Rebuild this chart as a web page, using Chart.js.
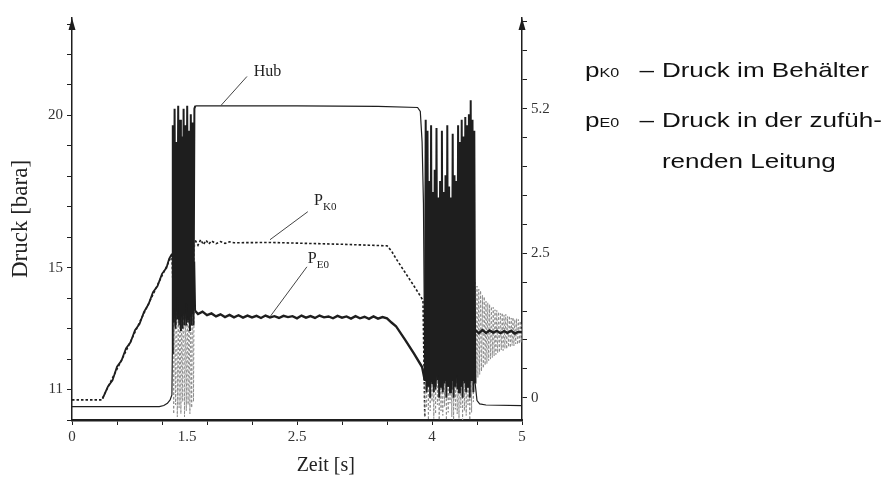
<!DOCTYPE html>
<html>
<head>
<meta charset="utf-8">
<script src="https://cdn.jsdelivr.net/npm/chart.js@4.4.1/dist/chart.umd.min.js"></script>
<style>
    body { margin: 0; background: #fff; }
    #wrap { position: relative; width: 891px; height: 479px; }
    #legend { position: absolute; left: 585px; top: 0; font-family: 'Liberation Sans', Arial, sans-serif; font-size: 21px; color: #111;
              transform: scaleX(1.24); transform-origin: 0 0; }
    .row { position: absolute; left: 0; white-space: nowrap; line-height: 1; }
    .sym { position: absolute; left: 0; }
    .sym small { font-size: 13px; }
    .dash { position: absolute; left: 44px; }
    .txt { position: absolute; left: 62px; }
</style>
</head>
<body>
<div id="wrap">
    <canvas id="myChart" width="891" height="479"></canvas>
    <div id="legend">
        <div class="row" style="top:59px"><span class="sym">p<small>K0</small></span><span class="dash">–</span><span class="txt">Druck im Behälter</span></div>
        <div class="row" style="top:109px"><span class="sym">p<small>E0</small></span><span class="dash">–</span><span class="txt">Druck in der zufüh-</span></div>
        <div class="row" style="top:150px"><span class="txt">renden Leitung</span></div>
    </div>
</div>
<script>
const myChart = document.querySelector('#myChart').getContext('2d')

// ticks
const xTickAt = [0, 0.5, 1, 1.5, 2, 2.5, 3, 3.5, 4, 4.5, 5]
const xLabelText = ['0', '1.5', '2.5', '4', '5']
const xLabelAt = [0, 1.28, 2.5, 4, 5]      // "1.5" sits under the start of the burst in the original
const pTickAt = [10, 11, 12, 13, 14, 15, 16, 17, 18, 19, 20, 21, 22, 23]
const pLabelAt = [11, 15, 20]
const hubTickAt = [0, 0.52, 1.04, 1.56, 2.08, 2.6, 3.12, 3.64, 4.16, 4.68, 5.2, 5.72, 6.24, 6.76]
const hubLabelText = ['0', '2.5', '5.2']
const hubLabelAt = [0, 2.6, 5.2]

// oscillation traces are read every 10 ms
const sampleStep = 0.01
const burst1Start = 1.12
const burst2Start = 3.92
const tailStart = 4.48

// Hub (right axis)
const hubBeforeT = [0, 0.97, 1.02, 1.06, 1.09, 1.11, 1.115]
const hubBeforeV = [-0.16, -0.16, -0.14, -0.1, -0.04, 0.05, 0.8]
const hubBurst1 = [4.9, 1.6, 5.2, 1.3, 4.6, 1.8, 5.25, 1.4, 5.0, 1.2, 4.7, 1.5, 5.2,
                   1.3, 4.9, 1.7, 5.25, 1.4, 4.8, 1.2, 5.1, 1.5, 4.95, 1.3, 5.2]
const hubMidT = [1.37, 2.5, 3.4, 3.84, 3.87, 3.89, 3.905]
const hubMidV = [5.25, 5.25, 5.24, 5.22, 5.15, 4.6, 3.5]
const hubBurst2 = [0.3, 5.0, 0.1, 4.8, 0.2, 3.9, 0.0, 4.9, 0.3, 3.7, 0.1, 4.1, 0.2, 4.85,
                   0.4, 3.6, 0.0, 3.9, 0.2, 4.8, 0.1, 3.7, 0.3, 4.0, 0.0, 4.9, 0.2, 3.8,
                   0.1, 3.6, 0.3, 4.75, 0.0, 4.0, 0.2, 3.9, 0.4, 4.9, 0.1, 4.6, 0.2, 5.0,
                   0.0, 4.7, 0.3, 5.05, 0.1, 4.9, 0.2, 5.1, 0.0, 5.35, 0.3, 5.0, 0.1, 4.8]
const hubAfterT = [4.48, 4.5, 4.53, 4.6, 5]
const hubAfterV = [0.25, -0.05, -0.11, -0.13, -0.14]

// p_K0 (left axis)
const pk0BeforeT = [0, 0.33, 0.45, 0.6, 0.75, 0.9, 1.0, 1.06, 1.11]
const pk0BeforeV = [10.66, 10.66, 11.38, 12.26, 13.2, 14.12, 14.74, 15.1, 15.42]
const pk0Burst1 = [14.6, 10.2, 14.0, 10.5, 14.8, 10.1, 13.6, 10.4, 14.3, 10.2, 13.9, 10.6, 14.5,
                   10.1, 13.7, 10.3, 14.2, 10.5, 14.6, 10.2, 13.8, 10.4, 14.4, 10.6, 15.6]
const pk0MidT = [1.37, 1.4, 1.43, 1.46, 1.49, 1.52, 1.55, 1.6, 1.65, 1.7, 1.75, 1.8,
                 2.2, 2.6, 3.0, 3.3, 3.5, 3.55, 3.6, 3.7, 3.8, 3.9]
const pk0MidV = [15.9, 15.74, 15.92, 15.76, 15.9, 15.78, 15.88, 15.79, 15.86, 15.8, 15.85, 15.82,
                 15.83, 15.8, 15.77, 15.74, 15.72, 15.55, 15.3, 14.85, 14.4, 13.93]
const pk0Burst2 = [10.1, 14.0, 10.4, 13.6, 10.0, 14.4, 10.3, 13.8, 10.6, 14.2, 10.05, 13.5,
                   10.2, 14.6, 10.5, 13.9, 10.0, 14.1, 10.3, 13.7, 10.15, 14.5, 10.45, 13.6,
                   10.0, 14.3, 10.25, 13.8, 10.55, 14.0, 10.1, 14.6, 10.0, 13.7, 10.35, 14.2,
                   10.2, 13.9, 10.05, 14.5, 10.4, 14.1, 10.0, 13.8, 10.3, 14.4, 10.15, 14.7,
                   10.5, 14.2, 10.0, 14.5, 10.25, 14.8, 10.6, 14.6]
const pk0Tail = [14.6, 11.2, 14.4, 11.4, 14.3, 11.5, 14.25, 11.6, 14.1, 11.7, 14.05, 11.8, 13.9,
                 11.85, 13.85, 11.95, 13.8, 12.0, 13.72, 12.05, 13.7, 12.1, 13.62, 12.15, 13.6,
                 12.2, 13.55, 12.22, 13.5, 12.3, 13.52, 12.28, 13.45, 12.35, 13.47, 12.33, 13.4,
                 12.4, 13.42, 12.38, 13.35, 12.45, 13.37, 12.43, 13.3, 12.5, 13.33, 12.48, 13.3,
                 12.5, 13.25, 12.55, 13.2]

// p_E0 (left axis)
const pe0BeforeT = [0.34, 0.4, 0.45, 0.5, 0.55, 0.6, 0.65, 0.7, 0.75, 0.8, 0.85, 0.9, 0.95, 1.0, 1.05, 1.08, 1.11]
const pe0BeforeV = [10.7, 11.1, 11.3, 11.75, 11.95, 12.35, 12.55, 12.95, 13.15, 13.55, 13.8, 14.2, 14.4, 14.8, 15.0, 15.3, 15.45]
const pe0Burst1 = [15.4, 13.2, 16.8, 13.0, 17.5, 13.3, 16.2, 13.1, 18.0, 13.4, 16.9, 13.0, 17.2,
                   13.3, 16.4, 13.1, 17.8, 13.2, 16.6, 13.4, 17.0, 13.1, 16.3, 13.5, 15.2]
const pe0MidT = [1.37, 1.4, 1.45, 1.5, 1.55, 1.6, 1.65, 1.7, 1.75, 1.8, 1.85, 1.9, 1.95, 2.0,
                 2.05, 2.1, 2.15, 2.2, 2.25, 2.3, 2.35, 2.4, 2.45, 2.5, 2.55, 2.6, 2.65, 2.7,
                 2.75, 2.8, 2.85, 2.9, 2.95, 3.0, 3.05, 3.1, 3.15, 3.2, 3.25, 3.3, 3.35, 3.4,
                 3.45, 3.5, 3.55, 3.6, 3.7, 3.8, 3.89]
const pe0MidV = [13.58, 13.48, 13.56, 13.44, 13.5, 13.4, 13.47, 13.38, 13.45, 13.37, 13.44, 13.36, 13.43, 13.37,
                 13.42, 13.35, 13.43, 13.37, 13.41, 13.35, 13.42, 13.38, 13.41, 13.34, 13.43, 13.36, 13.41, 13.35,
                 13.43, 13.37, 13.4, 13.34, 13.42, 13.36, 13.4, 13.33, 13.41, 13.34, 13.39, 13.32, 13.4, 13.33,
                 13.38, 13.34, 13.2, 13.08, 12.64, 12.18, 11.74]
const pe0Burst2 = [11.3, 14.2, 11.0, 14.8, 11.4, 13.9, 11.1, 14.5, 11.2, 14.0, 11.5, 14.6, 11.0, 14.3,
                   11.3, 13.8, 11.1, 14.7, 11.4, 14.1, 11.0, 14.4, 11.2, 13.9, 11.5, 14.6, 11.1, 14.2,
                   11.3, 14.8, 11.0, 14.0, 11.4, 14.5, 11.2, 13.8, 11.0, 14.3, 11.3, 14.7, 11.1, 14.1,
                   11.5, 14.4, 11.2, 14.9, 11.0, 14.2, 11.4, 14.6, 11.6, 14.0, 12.0, 13.8, 12.4, 13.4]
const pe0AfterT = [4.48, 4.52, 4.56, 4.6, 4.64, 4.68, 4.72, 4.76, 4.8, 4.84, 4.88, 4.92, 4.96, 5]
const pe0AfterV = [12.95, 12.85, 12.95, 12.86, 12.94, 12.87, 12.93, 12.85, 12.92, 12.86, 12.93, 12.84, 12.9, 12.88]

const pts = (ts, vs) => ts.map((t, i) => ({x: t, y: vs[i]}))
const sampled = (start, vs) => vs.map((v, i) => ({x: +(start + i * sampleStep).toFixed(3), y: v}))

const hubData = [...pts(hubBeforeT, hubBeforeV), ...sampled(burst1Start, hubBurst1),
                 ...pts(hubMidT, hubMidV), ...sampled(burst2Start, hubBurst2), ...pts(hubAfterT, hubAfterV)]
const pk0Data = [...pts(pk0BeforeT, pk0BeforeV), ...sampled(burst1Start, pk0Burst1),
                 ...pts(pk0MidT, pk0MidV), ...sampled(burst2Start, pk0Burst2), ...sampled(tailStart, pk0Tail)]
const pe0Data = [...pts(pe0BeforeT, pe0BeforeV), ...sampled(burst1Start, pe0Burst1), ...pts(pe0MidT, pe0MidV),
                 ...sampled(burst2Start, pe0Burst2), ...pts(pe0AfterT, pe0AfterV)]

// where the traces oscillate
const burstSpans = [[1.115, 1.365], [3.915, 4.475]]
const hatchSpans = [[1.115, 1.365], [3.915, 5.01]]
const inSpan = (spans, t) => spans.some(([a, b]) => t >= a && t <= b)

const ink = '#1e1e1e'
const serif = "'Liberation Serif', 'Times New Roman', serif"

const notes = [
    {text: 'Hub', sub: '', at: [2.02, 21.3], from: [1.944, 21.28], to: [1.656, 20.33]},
    {text: 'P', sub: 'K0', at: [2.69, 17.06], from: [2.62, 16.84], to: [2.2, 15.92]},
    {text: 'P', sub: 'E0', at: [2.62, 15.16], from: [2.61, 15.03], to: [2.2, 13.39]}
]
const xTitle = {text: 'Zeit [s]', at: 2.82}

const marks = {
    id: 'marks',
    afterDraw(chart) {
        const {ctx, chartArea, scales: {x, y, y1}} = chart
        ctx.save()
        ctx.fillStyle = ink
        for (const xp of [y.right, y1.left]) {
            ctx.beginPath()
            ctx.moveTo(xp, chartArea.top)
            ctx.lineTo(xp - 3.5, chartArea.top + 12)
            ctx.lineTo(xp + 3.5, chartArea.top + 12)
            ctx.closePath()
            ctx.fill()
        }
        ctx.strokeStyle = '#444'
        ctx.lineWidth = 1
        ctx.textBaseline = 'alphabetic'
        for (const n of notes) {
            ctx.beginPath()
            ctx.moveTo(x.getPixelForValue(n.from[0]), y.getPixelForValue(n.from[1]))
            ctx.lineTo(x.getPixelForValue(n.to[0]), y.getPixelForValue(n.to[1]))
            ctx.stroke()
            const tx = x.getPixelForValue(n.at[0])
            const ty = y.getPixelForValue(n.at[1])
            ctx.fillStyle = '#222'
            ctx.font = '16px ' + serif
            ctx.fillText(n.text, tx, ty)
            if (n.sub) {
                const w = ctx.measureText(n.text).width
                ctx.font = '11px ' + serif
                ctx.fillText(n.sub, tx + w, ty + 5)
            }
        }
        // x axis title, printed right of centre in the original
        ctx.font = '20px ' + serif
        ctx.textAlign = 'center'
        ctx.textBaseline = 'middle'
        ctx.fillText(xTitle.text, x.getPixelForValue(xTitle.at), x.bottom - 13)
        ctx.restore()
    }
}

const tickFont = {family: serif, size: 15}

new Chart(myChart, {
    type: 'line',
    data: {
        datasets: [{
            label: 'Hub',
            data: hubData,
            yAxisID: 'y1',
            borderColor: ink,
            borderWidth: 1.2,
            segment: {
                borderWidth: c => inSpan(burstSpans, c.p0.parsed.x) ? 2 : 1.2
            }
        }, {
            label: 'pE0',
            data: pe0Data,
            yAxisID: 'y',
            borderColor: ink,
            borderWidth: 2.4,
            segment: {
                borderWidth: c => c.p0.parsed.x < 1.11 ? 1.8 : inSpan(burstSpans, c.p0.parsed.x) ? 1.6 : 2.4
            }
        }, {
            label: 'pK0',
            data: pk0Data,
            yAxisID: 'y',
            borderColor: ink,
            borderWidth: 1.6,
            borderDash: [2.5, 2],
            segment: {
                borderColor: c => inSpan(hatchSpans, c.p0.parsed.x) ? '#8c8c8c' : ink,
                borderWidth: c => inSpan(hatchSpans, c.p0.parsed.x) ? 1 : 1.6
            }
        }]
    },
    options: {
        responsive: false,
        animation: false,
        events: [],
        layout: {padding: {top: 18, right: 319, bottom: 0, left: 0}},
        elements: {point: {radius: 0}, line: {tension: 0}},
        plugins: {legend: {display: false}, tooltip: {enabled: false}},
        scales: {
            x: {
                type: 'linear',
                min: 0,
                max: 5,
                afterFit: s => { s.height = 59 },
                afterBuildTicks: s => {
                    s.ticks = [...new Set([...xTickAt, ...xLabelAt])].sort((a, b) => a - b).map(v => ({value: v}))
                },
                ticks: {
                    font: tickFont,
                    color: '#333',
                    padding: 3,
                    maxRotation: 0,
                    autoSkip: false,
                    callback: v => xLabelAt.includes(v) ? xLabelText[xLabelAt.indexOf(v)] : ''
                },
                grid: {
                    drawOnChartArea: false,
                    tickLength: 5,
                    tickColor: c => c.tick && xTickAt.includes(c.tick.value) ? ink : 'rgba(0,0,0,0)'
                },
                border: {color: ink, width: 2.5}
            },
            y: {
                position: 'left',
                min: 10,
                max: 23.2,
                afterFit: s => { s.width = 72 },
                afterBuildTicks: s => { s.ticks = pTickAt.map(v => ({value: v})) },
                ticks: {
                    font: tickFont,
                    color: '#333',
                    padding: 4,
                    autoSkip: false,
                    callback: v => pLabelAt.includes(v) ? String(v) : ''
                },
                grid: {drawOnChartArea: false, tickLength: 5, tickColor: ink},
                border: {color: ink, width: 1.5},
                title: {display: true, text: 'Druck [bara]', font: {family: serif, size: 23}, color: '#222', padding: {top: 7, bottom: 0}}
            },
            y1: {
                position: 'right',
                min: -0.4,
                max: 6.83,
                afterFit: s => { s.width = 50 },
                afterBuildTicks: s => { s.ticks = hubTickAt.map(v => ({value: v})) },
                ticks: {
                    font: tickFont,
                    color: '#333',
                    padding: 4,
                    autoSkip: false,
                    callback: v => hubLabelAt.includes(v) ? hubLabelText[hubLabelAt.indexOf(v)] : ''
                },
                grid: {drawOnChartArea: false, tickLength: 5, tickColor: ink},
                border: {color: ink, width: 1.5}
            }
        }
    },
    plugins: [marks]
})
</script>
</body>
</html>
